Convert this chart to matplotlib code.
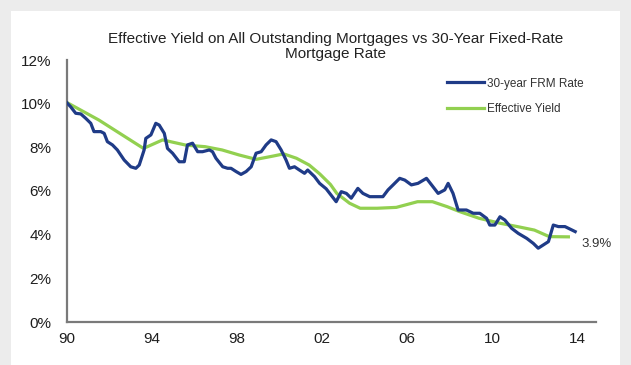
import matplotlib.pyplot as plt
from matplotlib.patches import Rectangle

plt.rcParams['font.family'] = ['Liberation Sans', 'DejaVu Sans']

# 30-year fixed rate mortgage rate (%)
frm_years = [1989.95, 1990.17, 1990.41, 1990.65, 1990.88, 1991.12, 1991.27, 1991.59, 1991.75,
             1991.9, 1992.14, 1992.37, 1992.69, 1993.0, 1993.24, 1993.4, 1993.63, 1993.71,
             1993.95, 1994.18, 1994.34, 1994.58, 1994.73, 1994.97, 1995.28, 1995.52, 1995.67,
             1995.91, 1996.15, 1996.38, 1996.7, 1996.85, 1997.01, 1997.33, 1997.56, 1997.72,
             1997.96, 1998.19, 1998.43, 1998.67, 1998.9, 1999.14, 1999.37, 1999.61, 1999.84,
             2000.08, 2000.31, 2000.47, 2000.71, 2000.94, 2001.18, 2001.33, 2001.65, 2001.89,
             2002.2, 2002.67, 2002.91, 2003.15, 2003.38, 2003.69, 2003.93, 2004.25, 2004.87,
             2005.11, 2005.35, 2005.66, 2005.9, 2006.21, 2006.52, 2006.92, 2007.16, 2007.47,
             2007.78, 2007.94, 2008.17, 2008.41, 2008.8, 2009.12, 2009.43, 2009.75, 2009.9,
             2010.14, 2010.38, 2010.61, 2010.93, 2011.24, 2011.64, 2011.95, 2012.18, 2012.66,
             2012.89, 2013.13, 2013.44, 2013.92]
frm_rate = [10.09, 9.86, 9.56, 9.53, 9.33, 9.10, 8.72, 8.72, 8.64,
            8.26, 8.11, 7.88, 7.42, 7.11, 7.04, 7.19, 7.88, 8.41,
            8.57, 9.10, 9.02, 8.64, 7.95, 7.73, 7.34, 7.34, 8.11,
            8.19, 7.80, 7.80, 7.88, 7.80, 7.50, 7.11, 7.04, 7.04,
            6.89, 6.76, 6.89, 7.11, 7.73, 7.80, 8.11, 8.34, 8.26,
            7.88, 7.42, 7.04, 7.11, 6.96, 6.81, 6.96, 6.66, 6.35,
            6.10, 5.51, 5.97, 5.89, 5.67, 6.12, 5.89, 5.74, 5.74,
            6.05, 6.28, 6.58, 6.50, 6.28, 6.35, 6.58, 6.28, 5.89,
            6.05, 6.35, 5.89, 5.13, 5.13, 4.98, 4.98, 4.75, 4.44,
            4.44, 4.82, 4.67, 4.29, 4.06, 3.83, 3.60, 3.38, 3.68,
            4.44, 4.37, 4.37, 4.14]

# effective yield on all outstanding mortgages (%)
ey_years = [1990.0, 1991.5, 1993.6, 1994.5, 1995.6, 1996.5, 1997.3, 1998.1, 1998.9, 1999.7,
            2000.2, 2000.8, 2001.4, 2001.9, 2002.4, 2002.7, 2003.3, 2003.8, 2004.6, 2005.5,
            2006.5, 2007.2, 2007.9, 2008.5, 2009.4, 2010.4, 2011.2, 2012.0, 2012.7, 2013.6]
ey_rate = [10.05, 9.25, 7.95, 8.34, 8.10, 8.03, 7.88, 7.65, 7.45, 7.60,
           7.70, 7.50, 7.19, 6.78, 6.30, 5.89, 5.44, 5.21, 5.21, 5.25,
           5.51, 5.51, 5.28, 5.05, 4.75, 4.52, 4.37, 4.21, 3.91, 3.90]

xticks = [1990, 1994, 1998, 2002, 2006, 2010, 2014]
xtick_labels = ['90', '94', '98', '02', '06', '10', '14']
yticks = [0, 2, 4, 6, 8, 10, 12]

fig = plt.figure(figsize=(6.31, 3.65), dpi=100, facecolor='#ececec')
fig.patches.append(Rectangle((11 / 631, 0), 609 / 631, 354 / 365, transform=fig.transFigure,
                             facecolor='white', edgecolor='none', zorder=-5))

ax = fig.add_axes([67 / 631, 43 / 365, 529 / 631, 262 / 365])
ax.set_facecolor('none')

ax.plot(frm_years, frm_rate, color='#1f3b87', lw=2.3, label='30-year FRM Rate', zorder=3)
ax.plot(ey_years, ey_rate, color='#92d050', lw=2.3, label='Effective Yield', zorder=2)

ax.set_xlim(1990, 2014.9)
ax.set_ylim(0, 12)
ax.set_xticks(xticks)
ax.set_xticklabels(xtick_labels)
ax.set_yticks(yticks)
ax.set_yticklabels([f'{v}%' for v in yticks])
ax.tick_params(length=0, labelsize=11, colors='#1e1e1e')
ax.tick_params(axis='y', pad=11)
ax.tick_params(axis='x', pad=7)

for side in ['top', 'right']:
    ax.spines[side].set_visible(False)
for side in ['left', 'bottom']:
    ax.spines[side].set_color('#7a7a7a')
    ax.spines[side].set_linewidth(1.6)

ax.text(2014.2, ey_rate[-1] - 0.35, f'{ey_rate[-1]}%', fontsize=9.5, color='#333333',
        ha='left', va='center')

fig.text(0.532, 0.873, 'Effective Yield on All Outstanding Mortgages vs 30-Year Fixed-Rate\nMortgage Rate',
         ha='center', va='center', fontsize=11, color='#222222', linespacing=1.1)

ax.legend(loc='upper left', bbox_to_anchor=(436 / 631, 1 - 67 / 365), bbox_transform=fig.transFigure,
          frameon=False, fontsize=8.5, handlelength=3.2, handletextpad=0.2, labelspacing=1.15,
          labelcolor='#333333')

fig.savefig('out.png', dpi=100, facecolor=fig.get_facecolor())
